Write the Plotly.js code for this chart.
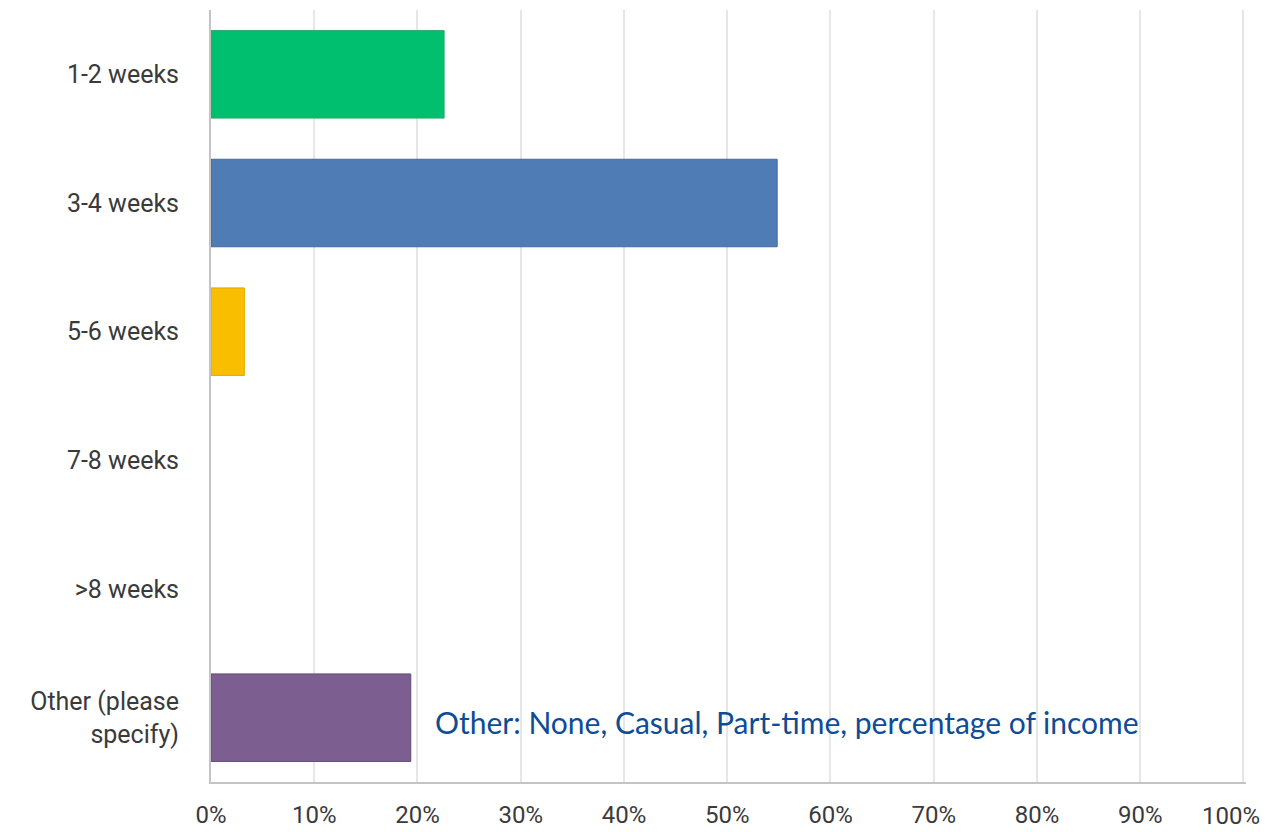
<!DOCTYPE html>
<html>
<head>
<meta charset="utf-8">
<script src="https://cdn.plot.ly/plotly-3.0.1.min.js"></script>
<style>html,body{margin:0;padding:0;background:#fff;}#chart{width:1268px;height:832px;}</style>
</head>
<body>
<div id="chart"></div>
<script>
const categories = ["1-2 weeks", "3-4 weeks", "5-6 weeks", "7-8 weeks", ">8 weeks", "Other (please<br>specify)"];
const percents = [22.58, 54.84, 3.23, 0, 0, 19.35];
const barColors = ["#00BF6F", "#507CB6", "#F9BE00", "#6BC8CD", "#FF8B4F", "#7D5E90"];
const barLines = ["#2fa86f", "#3f6aa3", "#e0aa00", "#55b0b5", "#e07a40", "#664a78"];
const barLineWidths = [1, 1, 1, 0, 0, 1];
const xTickVals = [0, 10, 20, 30, 40, 50, 60, 70, 80, 90, 100];
const xTickText = ["0%", "10%", "20%", "30%", "40%", "50%", "60%", "70%", "80%", "90%", "100%"];
const noteText = "Other: None, Casual, Part-time, percentage of income";

const lastIdx = xTickVals.length - 1;
// last tick label is drawn as an annotation so it can sit inside the page edge
const axisTickText = xTickText.map((t, i) => (i === lastIdx ? "" : t));

const trace = {
  type: "bar",
  orientation: "h",
  y: categories,
  x: percents,
  width: 0.68,
  marker: {color: barColors, line: {color: barLines, width: barLineWidths}},
  hoverinfo: "x+y"
};

const layout = {
  width: 1268, height: 832,
  margin: {l: 211, r: 22, t: 10, b: 50, pad: 0},
  paper_bgcolor: "#fff", plot_bgcolor: "#fff",
  showlegend: false,
  font: {family: "Roboto, 'Liberation Sans', sans-serif", size: 25, color: "#3a3a3a"},
  xaxis: {
    range: [0, 100.25], fixedrange: true,
    tickvals: xTickVals, ticktext: axisTickText,
    showgrid: true, gridcolor: "#e6e6e6", gridwidth: 2,
    zeroline: false,
    showline: true, linecolor: "#c4c4c4", linewidth: 2,
    ticks: "outside", ticklen: 10, tickcolor: "rgba(0,0,0,0)",
    tickfont: {size: 24, color: "#3a3a3a"}
  },
  yaxis: {
    autorange: "reversed", fixedrange: true,
    showgrid: false, zeroline: false,
    showline: true, linecolor: "#c4c4c4", linewidth: 2,
    ticks: "outside", ticklen: 25, tickcolor: "rgba(0,0,0,0)",
    tickfont: {size: 25, color: "#3a3a3a"}
  },
  annotations: [{
    xref: "x", yref: "y",
    x: percents[5], y: categories[5],
    xanchor: "left", yanchor: "middle",
    xshift: 22, yshift: -4,
    text: noteText, showarrow: false,
    font: {family: "Lato, 'Open Sans', sans-serif", size: 30, color: "#0d4c96"}
  }, {
    xref: "x", yref: "paper",
    x: xTickVals[lastIdx], y: 0,
    xanchor: "right", yanchor: "middle",
    xshift: 19, yshift: -34,
    text: xTickText[lastIdx], showarrow: false,
    font: {family: "Roboto, 'Liberation Sans', sans-serif", size: 24, color: "#3a3a3a"}
  }]
};

Plotly.newPlot("chart", [trace], layout, {displayModeBar: false});
</script>
</body>
</html>
